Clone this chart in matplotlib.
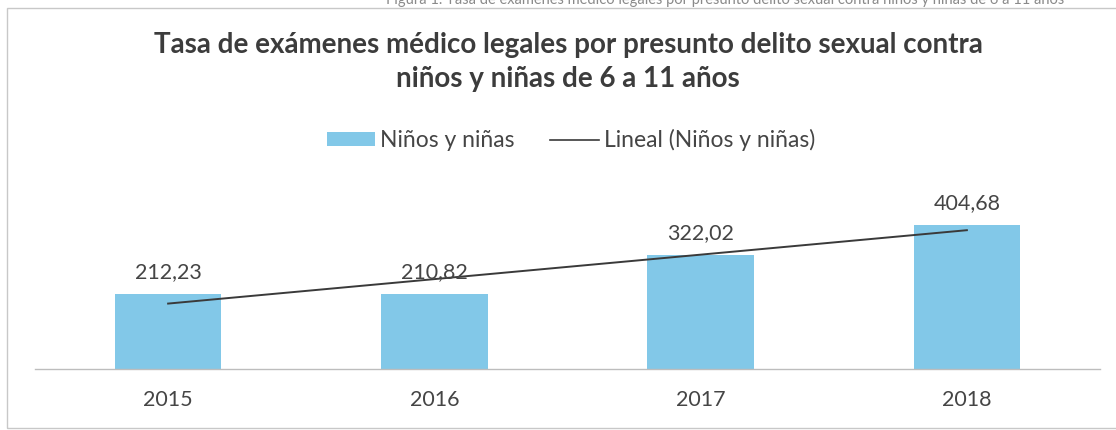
import numpy as np
import matplotlib
matplotlib.use("Agg")
import matplotlib.pyplot as plt
from matplotlib.patches import Rectangle, Patch
from matplotlib.lines import Line2D

plt.rcParams["font.family"] = ["Lato", "DejaVu Sans"]

years = ["2015", "2016", "2017", "2018"]
tasa = [212.23, 210.82, 322.02, 404.68]
value_labels = ["212,23", "210,82", "322,02", "404,68"]

title = "Tasa de exámenes médico legales por presunto delito sexual contra\nniños y niñas de 6 a 11 años"
caption = "Figura 1. Tasa de exámenes médico legales por presunto delito sexual contra niños y niñas de 6 a 11 años"

bar_color = "#82C8E8"
text_color = "#454545"

W, H = 1116, 430
fig = plt.figure(figsize=(W / 100, H / 100), dpi=100)

# outer frame of the scanned chart (right side runs off the page)
fig.patches.append(Rectangle((7 / W, 1 - 428 / H), 1.2, (428 - 8) / H,
                             transform=fig.transFigure, fill=False,
                             edgecolor="#c8c8c8", lw=1))

# caption line at the very top, cut off by the scan as in the source
fig.text(725 / W, 1.0, caption, ha="center", va="center", fontsize=10.5, color="#8a8a8a")

ax = fig.add_axes([35 / W, 61 / H, (1100 - 35) / W, 189 / H])
x = np.arange(len(years))
ax.bar(x, tasa, width=0.4, color=bar_color, zorder=2)

# Excel-style linear trendline
m, b = np.polyfit(x, tasa, 1)
ax.plot(x, m * x + b, color="#3a3a3a", lw=1.4, zorder=3)

for xi, v, lab in zip(x, tasa, value_labels):
    ax.annotate(lab, (xi, v), xytext=(0, 8.5), textcoords="offset points",
                ha="center", va="bottom", fontsize=15.5, color=text_color)

ax.set_xlim(-0.5, 3.5)
ax.set_ylim(0, 532)
ax.set_xticks(x)
ax.set_xticklabels(years, fontsize=15.5, color=text_color)
ax.tick_params(axis="x", length=0, pad=15)
ax.set_yticks([])
for s in ["top", "right", "left"]:
    ax.spines[s].set_visible(False)
ax.spines["bottom"].set_color("#bdbdbd")
ax.spines["bottom"].set_linewidth(1)

fig.text(568 / W, 1 - 62 / H, title, ha="center", va="center", fontsize=20,
         fontweight="bold", color="#3c3c3c", linespacing=1.42)

handles = [Patch(facecolor=bar_color, edgecolor="none"),
           Line2D([0], [0], color="#3a3a3a", lw=1.2)]
fig.legend(handles, ["Niños y niñas", "Lineal (Niños y niñas)"],
           loc="center", bbox_to_anchor=(571 / W, 1 - 140 / H), ncol=2,
           frameon=False, fontsize=16.5, handlelength=2.1, handleheight=0.55,
           handletextpad=0.22, columnspacing=1.55, labelcolor=text_color)

fig.savefig("out.png", dpi=100)
